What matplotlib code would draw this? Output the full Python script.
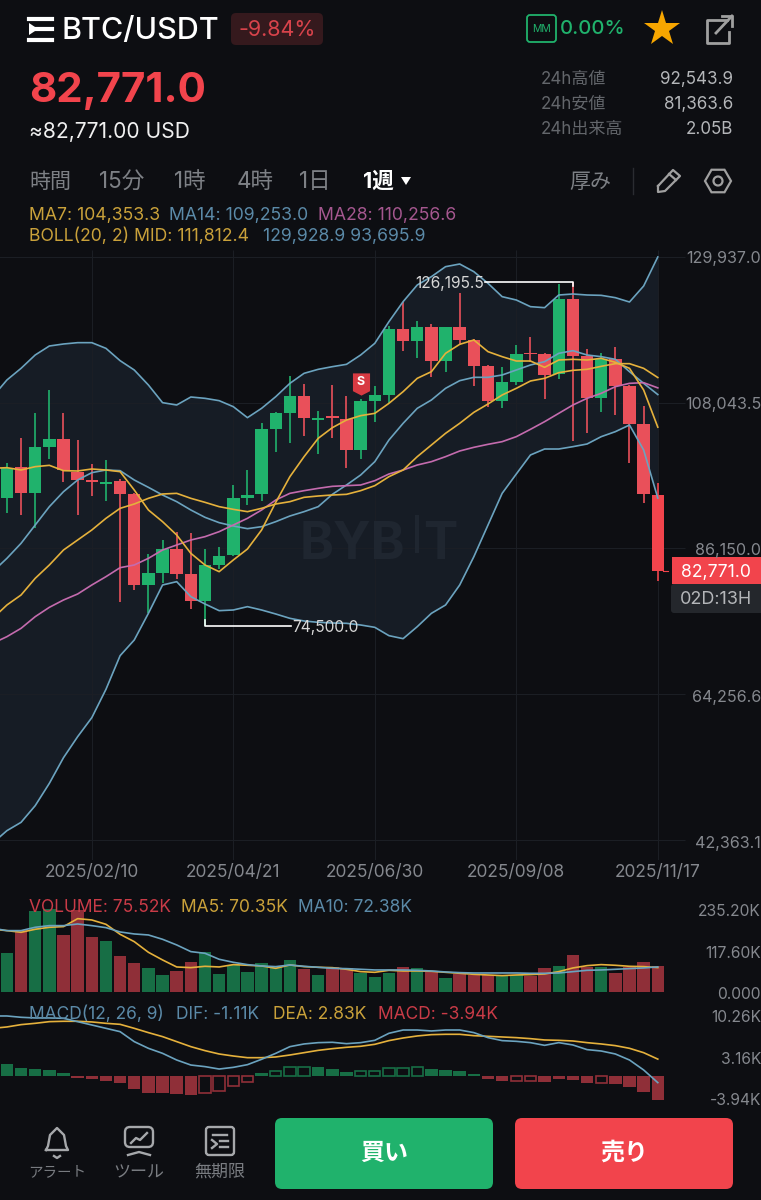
import matplotlib
matplotlib.use('Agg')
import matplotlib.pyplot as plt
import numpy as np
from matplotlib.patches import FancyBboxPatch, Rectangle, Polygon, Circle, RegularPolygon

plt.rcParams['font.family'] = ['Inter', 'Noto Sans CJK JP', 'DejaVu Sans']

BG = '#0d0e12'
BAND = '#161c25'
GRID = '#1c1f25'
GREEN = '#20b26c'
RED = '#e9505a'
RED_NOW = '#f2444c'
YELLOW = '#e5b13c'
BLUE = '#6ba3bf'
PINK = '#c46bae'
GRAY = '#85888e'

# weekly candles
opens = [93659, 98318, 94511, 101323, 102575, 97666, 96414, 95813, 96314, 94260, 80636, 82489,
         86045, 82288, 78281, 83641, 85144, 93659, 94260, 104078, 106432, 109037, 105380, 106031,
         105580, 100922, 108335, 109187, 119155, 117352, 119455, 114296, 119355, 117452, 113545,
         108285, 111090, 115548, 115298, 112292, 123563, 115047, 108686, 114546, 110539, 104779, 94160]
closes = [98167, 94511, 101323, 102575, 97917, 96414, 96163, 96063, 94260, 80636, 82489, 86045,
          82288, 78281, 83641, 85043, 93659, 94160, 104078, 106432, 109037, 105681, 105681, 105781,
          100922, 108335, 109187, 119155, 117352, 119455, 114296, 119355, 117452, 113545, 108285,
          111090, 115298, 115298, 112242, 123563, 115047, 108686, 114546, 110539, 104779, 94260, 82771]
highs = [98918, 102775, 106432, 109938, 106432, 102425, 98768, 99419, 96514, 94410, 85294, 87398,
         88650, 88400, 85995, 86396, 95663, 97917, 104929, 106582, 112042, 110790, 106833, 110690,
         109037, 108536, 110539, 119555, 123212, 120307, 119856, 119355, 124564, 117552, 113695,
         113344, 116700, 117953, 115448, 125817, 126195.5, 116049, 115548, 116450, 110690, 107534, 96013]
lows = [91405, 91154, 89151, 99519, 96063, 91154, 94010, 93308, 78131, 79884, 76478, 80986,
        81487, 76979, 74500, 82990, 85043, 92657, 93308, 100672, 102024, 103026, 100321, 102675,
        98167, 99570, 105079, 107935, 115799, 114697, 111942, 112693, 116851, 110589, 107334,
        107284, 110690, 114196, 108586, 111591, 102274, 103527, 106582, 106181, 98918, 92908, 81236]

# indicator lines start one week left of the screen
boll_up = [108936, 111441, 113194, 115198, 116550, 116851, 117051, 117051, 116199, 114346, 112944, 110690,
           108035, 107684, 108886, 108686, 108335, 107434, 105781, 107183, 108936, 110940, 112443, 113044,
           113444, 113795, 115198, 116951, 120207, 123212, 125717, 126970, 128471, 128872, 127720, 125967,
           123963, 123463, 122461, 122310, 124214, 124364, 124214, 124164, 123813, 123162, 125566, 129929]
boll_low = [41866, 43719, 44971, 47477, 50832, 54689, 57845, 60700, 64957, 70016, 72371, 76378,
            80636, 81137, 78882, 77781, 76779, 76879, 77380, 76879, 76278, 75627, 75226, 75025,
            74925, 74875, 74625, 74274, 73022, 72571, 74374, 76378, 77630, 80636, 84893, 89652,
            94410, 97315, 100171, 101072, 101072, 101423, 101823, 102926, 103677, 104679, 100922, 93696]
boll_mid = [75627, 77630, 79133, 81637, 83641, 85895, 87398, 88900, 90653, 92156, 92807, 93659,
            94310, 94410, 93659, 93058, 92407, 92006, 91655, 92156, 92807, 93158, 93809, 94010,
            94160, 94260, 94811, 95562, 96915, 97917, 99920, 101673, 103426, 104929, 106582, 107834,
            109187, 110189, 111291, 111691, 112543, 112893, 113044, 113495, 113895, 113895, 113194, 111812]
ma7 = [98168, 98268, 97917, 98418, 98618, 97817, 97766, 98067, 97917, 97666, 94911, 91906,
       90153, 88149, 85394, 83641, 82639, 84392, 86045, 88900, 93058, 96915, 99920, 102675,
       104278, 105430, 106081, 106432, 107935, 109688, 111692, 112693, 115448, 116801, 117452, 115699,
       114947, 114296, 114296, 113344, 114446, 114546, 114446, 114697, 114096, 113194, 109938, 104353]
ma14 = [82639, 84643, 86897, 89652, 92407, 94661, 96414, 97516, 97917, 97817, 96414, 95312,
        94160, 93158, 91906, 90804, 90002, 89502, 89101, 89401, 90153, 91004, 91655, 92407,
        94260, 95663, 97165, 99169, 102425, 104929, 107183, 108436, 110189, 111341, 111842, 111842,
        112192, 112944, 113695, 114196, 115448, 115849, 115198, 114947, 114546, 112693, 110940, 109253]
ma28 = [71870, 72872, 74124, 75877, 77280, 78382, 79283, 80636, 81888, 83240, 83641, 84643,
        85895, 86646, 87398, 87899, 88650, 89652, 90653, 91906, 93409, 94410, 94811, 95162,
        95462, 95562, 95663, 96314, 97316, 97917, 98668, 99169, 99920, 100772, 101323, 101774,
        102174, 102926, 104028, 105180, 106432, 107684, 108686, 109437, 110439, 110940, 111040, 110257]

# volume, thousands
volume = [113, 177.5, 232.5, 236.3, 163.2, 235, 157.5, 146.1, 104.4, 83.5, 69.3, 49.3,
          59.8, 85.4, 113.9, 51.2, 77.8, 58.8, 82.6, 73.1, 93, 65.5, 49.3, 71.2,
          68.3, 54.1, 42.7, 56, 71.2, 68.3, 58.8, 41.8, 51.2, 50.3, 49.3, 47.4,
          49.3, 46.5, 69.3, 75, 106.3, 71.2, 71.2, 56, 71.2, 85.4, 75.52]
vol_ma5 = [179.4, 175.6, 170.8, 179.4, 185.1, 187, 209.7, 205.9, 193.6, 165.1, 144.2, 113.9,
           92.1, 72.1, 70.2, 74, 72.1, 78.8, 76.9, 75, 68.3, 77.8, 73.1, 71.2,
           70.2, 65.5, 58.8, 56.9, 62.6, 60.7, 60.7, 59.8, 56.9, 54.1, 51.2, 49.3,
           47.5, 49.3, 50.3, 52.2, 58.8, 69.3, 75.9, 78.8, 76.9, 74, 73.1, 70.35]
vol_ma10 = [182.2, 175.6, 175.6, 185.1, 189.8, 189.8, 194.5, 189.8, 184.1, 171.8, 166.1, 163.2,
            150.9, 134.8, 115.8, 111, 94, 85.4, 78.8, 75, 73.1, 77.8, 74, 71.2,
            68.3, 67.4, 65.5, 63.6, 63.6, 63.6, 62.6, 60.7, 57.9, 56, 55, 55,
            55, 55, 54.1, 54.1, 55, 58.8, 62.6, 63.6, 65.5, 67.4, 69.3, 72.38]

# macd, thousands
macd_hist = [2.01, 1.34, 1.17, 1.01, 0.45, -0.39, -0.45, -0.78, -1.17, -2.24, -2.80, -2.80,
             -3.02, -3.24, -2.91, -2.52, -1.68, -1.06, 0.50, 0.78, 1.45, 1.45, 1.45, 1.23,
             0.73, 0.84, 0.84, 1.29, 1.40, 1.57, 1.12, 1.06, 0.78, 0.34, -0.50, -0.84,
             -0.89, -0.84, -0.95, -0.56, -0.61, -1.12, -1.17, -1.34, -1.79, -2.68, -3.94]
hollow = [14, 15, 16, 17, 19, 20, 21, 25, 26, 27, 28, 29, 36, 37, 42]
dif = [10.06, 10.06, 9.84, 9.73, 9.73, 9.67, 9.11, 8.55, 7.99, 7.43, 5.76, 4.64,
       3.80, 2.68, 1.84, 1.57, 1.17, 1.45, 1.90, 2.80, 3.80, 4.92, 5.37, 5.59,
       5.65, 5.42, 5.59, 5.98, 7.16, 7.71, 7.71, 7.55, 7.71, 7.71, 7.27, 6.43,
       5.93, 5.81, 5.59, 5.14, 5.59, 5.20, 4.42, 4.19, 3.69, 2.68, 1.01, -1.11]
dea = [7.99, 8.22, 8.61, 8.83, 9.11, 9.17, 9.17, 9.06, 8.83, 8.66, 7.99, 7.27,
       6.60, 5.76, 4.92, 4.25, 3.69, 3.35, 3.07, 3.07, 3.19, 3.52, 3.91, 4.30,
       4.58, 4.81, 4.98, 5.31, 5.93, 6.37, 6.71, 6.93, 6.99, 6.99, 6.76, 6.65,
       6.54, 6.43, 6.26, 6.04, 5.98, 5.87, 5.59, 5.37, 5.09, 4.64, 3.91, 2.83]

price_ticks = [129937.0, 108043.5, 86150.0, 64256.6, 42363.1]
price_tick_labels = ['129,937.0', '108,043.5', '86,150.0', '64,256.6', '42,363.1']
date_idx = [6, 16, 26, 36, 46]
date_labels = ['2025/02/10', '2025/04/21', '2025/06/30', '2025/09/08', '2025/11/17']
vol_labels = ['235.20K', '117.60K', '0.000']
macd_labels = ['10.26K', '3.16K', '-3.94K']

W, H = 761, 1200
fig = plt.figure(figsize=(W / 100, H / 100), dpi=100, facecolor=BG)


def pane(top, bottom):
    # axes spanning the full width between two pixel rows
    ax = fig.add_axes([0, 1 - bottom / H, 1, (bottom - top) / H])
    ax.set_facecolor(BG)
    ax.set_xlim(-6.9 / 14.15, (W - 6.9) / 14.15)
    ax.axis('off')
    return ax


idx = np.arange(47)
line_idx = np.arange(-1, 47)

# price pane
ax = pane(250, 860)
ax.set_ylim(39311, 130976)
ax.fill_between(line_idx, boll_low, boll_up, color=BAND, lw=0, zorder=1)
ax.hlines(price_ticks, -1, 47.9, color=GRID, lw=0.7, zorder=2)
ax.vlines(date_idx, 39311, 130976, color=GRID, lw=0.7, zorder=2)

o, c = np.array(opens), np.array(closes)
candle_colors = [GREEN if c[i] >= o[i] else RED for i in idx]
candle_colors[46] = RED_NOW
ax.vlines(idx, lows, highs, colors=candle_colors, lw=1.2, zorder=3)
ax.bar(idx, np.abs(c - o), bottom=np.minimum(o, c), width=0.88, color=candle_colors, zorder=3)

ax.plot(line_idx, boll_up, color=BLUE, lw=1.2, zorder=4)
ax.plot(line_idx, boll_low, color=BLUE, lw=1.2, zorder=4)
ax.plot(line_idx, ma14, color=BLUE, lw=1.2, zorder=4)
ax.plot(line_idx, ma28, color=PINK, lw=1.2, zorder=4)
ax.plot(line_idx, boll_mid, color=YELLOW, lw=1.2, zorder=4)
ax.plot(line_idx, ma7, color=YELLOW, lw=1.2, zorder=4)

# high / low callouts
ax.plot([33.8, 40, 40], [126195.5, 126195.5, 125500], color='white', lw=1.2, zorder=5)
ax.plot([14, 14, 20.1], [75400, 74500, 74500], color='white', lw=1.2, zorder=5)
ax.text(33.7, 126000, '126,195.5', color='#d8d8d8', fontsize=11.2, ha='right', va='center', zorder=6)
ax.text(20.2, 74300, '74,500.0', color='#d8d8d8', fontsize=11.2, ha='left', va='center', zorder=6)

# sell flag on week 25
ax.plot(25, 110839, marker=[(-0.77, 1), (0.77, 1), (0.77, -0.6), (0, -1), (-0.77, -0.6)], ms=16, color='#d83a42', mew=0, zorder=6)
ax.text(25, 111100, 'S', color='white', fontsize=9, fontweight='bold', ha='center', va='center', zorder=7)

# watermark
ax.text(20.7, 86500, 'BYB', color='#1f2630', fontsize=37, fontweight='bold', ha='left', va='center', zorder=2)
ax.text(29.4, 86500, 'T', color='#1f2630', fontsize=37, fontweight='bold', ha='left', va='center', zorder=2)
ax.add_patch(Rectangle((28.85, 85440), 0.25, 5700, color='#1f2630', lw=0, zorder=2))

# volume pane
ax_v = pane(895, 993)
ax_v.set_ylim(-2, 277)
vol_colors = ['#176e45' if c[i] >= o[i] else '#8f2f38' for i in idx]
ax_v.bar(idx, volume, width=0.88, color=vol_colors)
ax_v.plot(line_idx, vol_ma5, color=YELLOW, lw=1.2)
ax_v.plot(line_idx, vol_ma10, color=BLUE, lw=1.2)

# macd pane
ax_m = pane(1005, 1101)
ax_m.set_ylim(-4.19, 11.9)
for i in idx:
    col = '#176e45' if macd_hist[i] >= 0 else '#8f2f38'
    if i in hollow:
        ax_m.bar(i, macd_hist[i], width=0.8, facecolor='none', edgecolor=col, lw=1.2)
    else:
        ax_m.bar(i, macd_hist[i], width=0.88, color=col)
ax_m.plot(line_idx, dea, color=YELLOW, lw=1.2)
ax_m.plot(line_idx, dif, color=BLUE, lw=1.2)

# everything around the chart is drawn in pixel coordinates
ui = fig.add_axes([0, 0, 1, 1], zorder=10)
ui.set_xlim(0, W)
ui.set_ylim(H, 0)
ui.axis('off')
ui.patch.set_alpha(0)


def label(x, y, s, color=GRAY, px=16, ha='left', weight='normal'):
    ui.text(x, y + 1.5, s, color=color, fontsize=px * 0.72, ha=ha, va='center', fontweight=weight)


def rbox(x0, y0, x1, y1, r, **kw):
    ui.add_patch(FancyBboxPatch((x0 + r, y0 + r), x1 - x0 - 2 * r, y1 - y0 - 2 * r,
                                boxstyle='round,pad=%s' % r, **kw))


# header
for y, x1 in [(18.5, 52), (29, 52), (39.5, 52)]:
    ui.plot([34 if y == 29 else 29, x1], [y, y], color='white', lw=3)
ui.add_patch(Polygon([(29, 23), (38, 29), (29, 35)], color='white', lw=0))
label(62, 29, 'BTC/USDT', 'white', 30.5, weight='medium')
rbox(231, 13, 323, 45, 5, color='#35191d', lw=0)
label(277, 28, '-9.84%', '#d8434b', 21.5, 'center')
rbox(527, 15, 556, 42, 3, facecolor='none', edgecolor=GREEN, lw=1.3)
label(541.5, 27.5, 'MM', GREEN, 10.5, 'center')
label(560, 27.5, '0.00%', GREEN, 20.3, weight='medium')
ui.plot(662, 29, marker='*', ms=27, color='#f7a600', mew=0)
ui.plot([727, 707, 707, 729, 729], [20, 20, 43, 43, 32], color='#a0a0a0', lw=2)
ui.plot([716, 732], [33, 16], color='#a0a0a0', lw=2)
ui.plot([722, 732, 732], [16, 16, 26], color='#a0a0a0', lw=2)

label(29, 89, '82,771.0', RED_NOW, 42, weight='bold')
label(29, 130, '≈82,771.00 USD', '#f0f0f0', 21)
for y, name, val in [(78, '24h高値', '92,543.9'), (103, '24h安値', '81,363.6'), (128, '24h出来高', '2.05B')]:
    label(541, y, name, '#63666b', 17)
    label(733, y, val, '#b4b6b9', 17, 'right')

# interval tabs
label(29, 180, '時間', '#7d8085', 21)
for x, s in [(99, '15分'), (174, '1時'), (237, '4時'), (299, '1日')]:
    label(x, 180, s, '#7d8085', 22.5)
label(363, 180, '1週', 'white', 21.5, weight='bold')
ui.add_patch(Polygon([(401, 177), (411, 177), (406, 185)], color='white', lw=0))
label(569, 180, '厚み', '#7d8085', 21)
ui.plot([633, 633], [168, 194], color='#2a2c31', lw=1)
ui.plot([658, 673, 680, 665, 658, 658], [186, 170, 176, 191, 192, 186], color='#a0a0a0', lw=1.6)
ui.plot([669, 676], [174, 180], color='#a0a0a0', lw=1.6)
ui.add_patch(RegularPolygon((718, 181), 6, radius=13, orientation=np.pi / 6, facecolor='none', edgecolor='#a0a0a0', lw=1.6))
ui.add_patch(Circle((718, 181), 4.5, facecolor='none', edgecolor='#a0a0a0', lw=1.6))

# indicator legends
label(29, 214, 'MA7: 104,353.3', '#c9a13a', 17.6)
label(169, 214, 'MA14: 109,253.0', '#5b8aa8', 17.6)
label(318, 214, 'MA28: 110,256.6', '#a5578f', 17.6)
label(29, 235, 'BOLL(20, 2) MID: 111,812.4', '#c9a13a', 17.6)
label(263, 235, '129,928.9 93,695.9', '#5b8aa8', 17.6)

# axis labels
for y, s in zip([257, 403, 549, 696, 842], price_tick_labels):
    label(761, y, s, GRAY, 16.1, 'right')
for i, s in zip(date_idx, date_labels):
    label(6.9 + 14.15 * i, 871, s, GRAY, 17.3, 'center')
for y, s in zip([910, 952, 993], vol_labels):
    label(761, y, s, GRAY, 15.6, 'right')
for y, s in zip([1016, 1058, 1099], macd_labels):
    label(761, y, s, GRAY, 15.6, 'right')

label(29, 906, 'VOLUME: 75.52K', '#c93b47', 17.4)
label(181, 906, 'MA5: 70.35K', '#c9a13a', 17.4)
label(298, 906, 'MA10: 72.38K', '#5b8aa8', 17.4)
label(29, 1013, 'MACD(12, 26, 9)', '#5b8aa8', 17.4)
label(176, 1013, 'DIF: -1.11K', '#5b8aa8', 17.4)
label(273, 1013, 'DEA: 2.83K', '#c9a13a', 17.4)
label(378, 1013, 'MACD: -3.94K', '#c93b47', 17.4)

# last price tag
ui.add_patch(Rectangle((672, 557), 89, 27, color=RED_NOW, lw=0))
label(716, 571, '82,771.0', 'white', 17.6, 'center')
rbox(671, 584, 775, 613, 3, color='#24272c', lw=0)
label(716, 598, '02D:13H', '#b4b6b9', 18, 'center')
ui.plot([663, 668], [571, 571], color=RED_NOW, lw=0.8)

# bottom bar
rbox(275, 1118, 493, 1189, 7, color=GREEN, lw=0)
label(384, 1152, '買い', 'white', 24, 'center', 'bold')
rbox(515, 1118, 733, 1189, 7, color=RED_NOW, lw=0)
label(624, 1152, '売り', 'white', 24, 'center', 'bold')

nav_gray = '#a6a8ab'
# bell
ui.plot([46, 48, 50, 57, 64, 66, 68, 46], [1150, 1146, 1135, 1128, 1135, 1146, 1150, 1150], color=nav_gray, lw=1.7)
ui.plot([54, 57, 60], [1156, 1158, 1156], color=nav_gray, lw=1.7)
# tool
rbox(125, 1127, 153, 1147, 5, facecolor='none', edgecolor=nav_gray, lw=1.7)
ui.plot([131, 136, 140, 147], [1143, 1138, 1140, 1133], color=nav_gray, lw=1.7)
ui.plot([128, 139, 150], [1155, 1152, 1155], color=nav_gray, lw=1.7)
# perpetual
rbox(206, 1127, 234, 1155, 3, facecolor='none', edgecolor=nav_gray, lw=1.7)
ui.plot([213, 227], [1135, 1135], color=nav_gray, lw=1.7)
ui.plot([212, 217, 212], [1140, 1144, 1148], color=nav_gray, lw=1.7)
ui.plot([220, 228], [1141, 1141], color=nav_gray, lw=1.7)
ui.plot([220, 228], [1147, 1147], color=nav_gray, lw=1.7)
label(57, 1171, 'アラート', '#797c81', 14.5, 'center')
label(139, 1171, 'ツール', '#797c81', 17, 'center')
label(220, 1171, '無期限', '#797c81', 17, 'center')

plt.savefig('out.png', dpi=100, facecolor=BG)
